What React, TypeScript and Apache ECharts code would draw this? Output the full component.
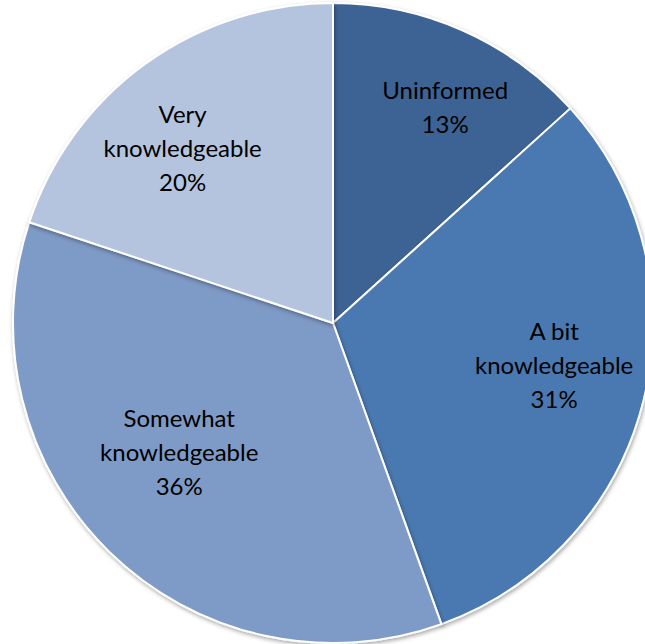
import React, { useEffect, useRef } from "react";
import * as echarts from "echarts";

const categories = ["Uninformed", "A bit knowledgeable", "Somewhat knowledgeable", "Very knowledgeable"];
const values = [13.3, 31.2, 35.6, 19.9];
const colors = ["#3C6494", "#4A79B0", "#7E9AC6", "#B5C4DE"];
const labelOffsets = [
  [46, -68],
  [63, 2],
  [-40, 12],
  [-55, -43],
];

export default function App() {
  const ref = useRef<HTMLDivElement>(null);
  useEffect(() => {
    const chart = echarts.init(ref.current!, null, { renderer: "svg" });
    chart.setOption({
      animation: false,
      backgroundColor: "#ffffff",
      series: [
        {
          type: "pie",
          center: [333, 323],
          radius: [0, 320],
          startAngle: 90,
          clockwise: true,
          avoidLabelOverlap: false,
          labelLine: { show: false },
          itemStyle: {
            borderColor: "#ffffff",
            borderWidth: 2,
            shadowBlur: 4,
            shadowColor: "rgba(0,0,0,0.35)",
            shadowOffsetX: 1,
            shadowOffsetY: 2,
          },
          label: {
            show: true,
            position: "inside",
            fontFamily: "Lato, 'Open Sans', sans-serif",
            fontSize: 24,
            lineHeight: 34,
            color: "#000000",
            align: "center",
            formatter: (p: any) =>
              p.name.replace(" knowledgeable", "\nknowledgeable") + "\n" + Math.round(p.percent) + "%",
          },
          data: categories.map((name, i) => ({
            name,
            value: values[i],
            itemStyle: { color: colors[i] },
            label: { offset: labelOffsets[i] },
          })),
        },
      ],
    });
    return () => chart.dispose();
  }, []);
  return (
    <div
      ref={ref}
      style={{ position: "fixed", left: 0, top: 0, width: 645, height: 644 }}
    />
  );
}
